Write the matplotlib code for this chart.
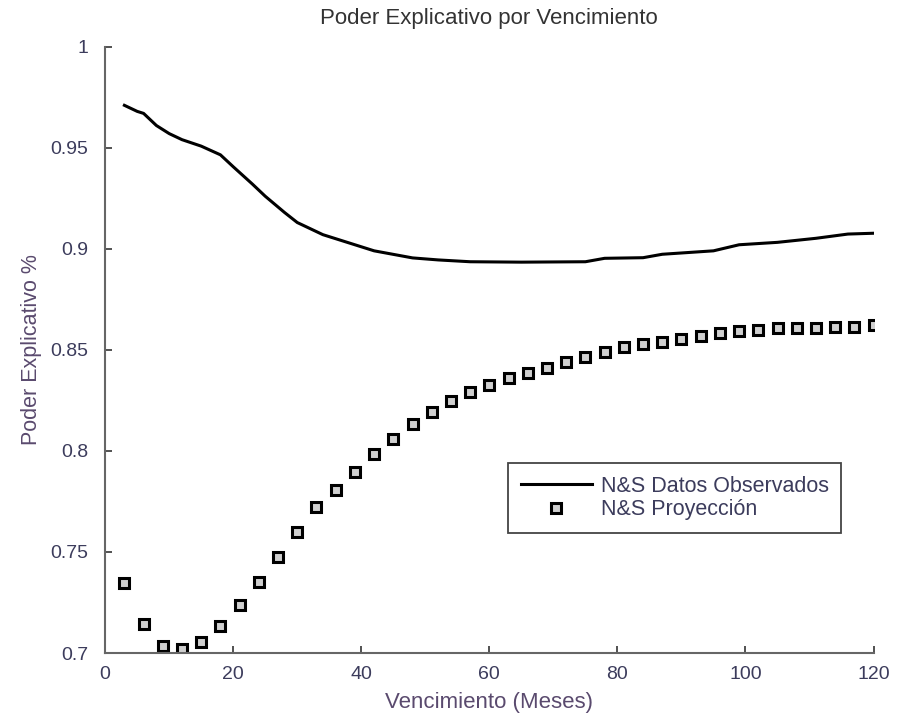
import matplotlib
matplotlib.use('Agg')
import matplotlib.pyplot as plt
import numpy as np

plt.rcParams['font.family'] = ['Liberation Sans', 'DejaVu Sans']

# N&S Datos Observados (solid line)
obs_x = [3, 5, 6, 8, 10, 12, 15, 18, 20, 23, 25, 28, 30, 34, 38, 42, 48, 52,
         57, 65, 75, 78, 84, 87, 95, 99, 105, 111, 116, 120]
obs_y = [0.971, 0.968, 0.967, 0.961, 0.957, 0.954, 0.9508, 0.9465, 0.9406,
         0.932, 0.926, 0.918, 0.913, 0.907, 0.903, 0.899, 0.8955, 0.8945,
         0.8936, 0.8934, 0.8936, 0.8953, 0.8956, 0.8973, 0.899, 0.902,
         0.9032, 0.9052, 0.9073, 0.9077]

# N&S Proyeccion (square markers, every 3 months)
proj_x = list(range(3, 121, 3))
proj_y = [0.7345, 0.7142, 0.7036, 0.702, 0.7053, 0.7134, 0.7238, 0.7353,
          0.7474, 0.7597, 0.7721, 0.7807, 0.7894, 0.7983, 0.806, 0.8135,
          0.8194, 0.8249, 0.829, 0.8326, 0.8359, 0.8387, 0.8412, 0.8438,
          0.8466, 0.8491, 0.8513, 0.8528, 0.8537, 0.8554, 0.857, 0.8583,
          0.8592, 0.8598, 0.8607, 0.8607, 0.8607, 0.8615, 0.8615, 0.8623]

xticks = [0, 20, 40, 60, 80, 100, 120]
yticks = [0.7, 0.75, 0.8, 0.85, 0.9, 0.95, 1]
ytick_labels = ['0.7', '0.75', '0.8', '0.85', '0.9', '0.95', '1']

tick_color = '#3c3c5c'
label_color = '#5a4a6e'

fig = plt.figure(figsize=(8.99, 7.23), dpi=100)
ax = fig.add_axes([0.117, 0.0968, 0.8547, 0.8386])

ax.plot(obs_x, obs_y, color='black', linewidth=2.2, label='N&S Datos Observados')
ax.plot(proj_x, proj_y, linestyle='none', marker='s', markersize=6.5,
        markerfacecolor='#cfcfcf', markeredgecolor='black', markeredgewidth=2.2,
        label='N&S Proyección')

ax.set_xlim(0, 120)
ax.set_ylim(0.7, 1)
ax.set_xticks(xticks)
ax.set_yticks(yticks)
ax.set_yticklabels(ytick_labels)

for s in ['top', 'right']:
    ax.spines[s].set_visible(False)
for s in ['left', 'bottom']:
    ax.spines[s].set_color('#666666')
    ax.spines[s].set_linewidth(1.5)

ax.tick_params(axis='both', direction='in', length=5, width=1.2,
               color='#333333', labelsize=14, labelcolor=tick_color)
ax.tick_params(axis='y', pad=12)
ax.tick_params(axis='x', pad=9)

ax.set_title('Poder Explicativo por Vencimiento', fontsize=16, color='#333333', pad=16)
ax.set_xlabel('Vencimiento (Meses)', fontsize=16, color=label_color, labelpad=7)
ax.set_ylabel('Poder Explicativo %', fontsize=15.5, color=label_color, labelpad=6)

leg = ax.legend(loc='upper left', bbox_to_anchor=(508 / 899, 1 - 463 / 723),
                bbox_transform=fig.transFigure, borderaxespad=0, fontsize=15.5,
                handlelength=3.3, handletextpad=0.4, borderpad=0.6,
                labelspacing=0.1, fancybox=False, framealpha=1)
leg.get_frame().set_edgecolor('#444444')
leg.get_frame().set_linewidth(1.3)
for t in leg.get_texts():
    t.set_color(tick_color)

fig.savefig('out.png', dpi=100)
